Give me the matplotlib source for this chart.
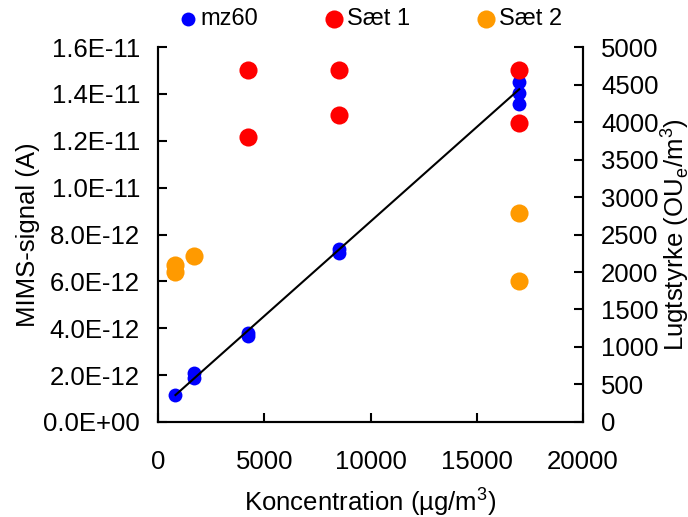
import matplotlib.pyplot as plt
from matplotlib.ticker import FormatStrFormatter, MultipleLocator

plt.rcParams['font.family'] = ['Liberation Sans', 'DejaVu Sans']
plt.rcParams['mathtext.fontset'] = 'custom'
plt.rcParams['mathtext.rm'] = 'Liberation Sans'

# MIMS signal for m/z 60 (left axis)
mz60_x = [820, 1700, 1700, 4250, 4250, 8500, 8500, 17000, 17000, 17000]
mz60_y = [1.15e-12, 2.08e-12, 1.87e-12, 3.79e-12, 3.65e-12,
          7.40e-12, 7.23e-12, 1.452e-11, 1.406e-11, 1.359e-11]

# straight line through the m/z 60 points
line_x = [820, 17000]
line_y = [1.15e-12, 1.42e-11]

# odour concentration (right axis)
saet1_x = [4250, 4250, 8500, 8500, 17000, 17000]
saet1_y = [4700, 3800, 4700, 4090, 4700, 3990]
saet2_x = [820, 820, 1700, 17000, 17000]
saet2_y = [2100, 2005, 2210, 2790, 1880]

fs = 18.5
fig = plt.figure(figsize=(6.88, 5.17), dpi=100)
ax = fig.add_axes([0.2297, 0.1838, 0.6177, 0.7252])
ax2 = ax.twinx()

ax.scatter(mz60_x, mz60_y, s=100, color='#0000FF', label='mz60', zorder=2,
           linewidths=0)
ax.plot(line_x, line_y, color='black', lw=1.5, zorder=3)

ax2.scatter(saet1_x, saet1_y, s=170, color='#FF0000', label='Sæt 1',
            linewidths=0)
ax2.scatter(saet2_x, saet2_y, s=170, color='#FF9A00', label='Sæt 2',
            linewidths=0)

ax.set_xlim(0, 20000)
ax.set_ylim(0, 1.6e-11)
ax2.set_ylim(0, 5000)
ax.xaxis.set_major_locator(MultipleLocator(5000))
ax.yaxis.set_major_locator(MultipleLocator(2e-12))
ax.yaxis.set_major_formatter(FormatStrFormatter('%.1E'))
ax2.yaxis.set_major_locator(MultipleLocator(500))

for a in (ax, ax2):
    a.spines['top'].set_visible(False)
    for sp in a.spines.values():
        sp.set_linewidth(1.5)
    a.tick_params(direction='in', length=6.5, width=1.5, labelsize=fs, pad=13)
ax.tick_params(axis='x', pad=20)

ax.set_xlabel('Koncentration (µg/m$^\\mathregular{3}$)', fontsize=fs, labelpad=8)
ax.set_ylabel('MIMS-signal (A)', fontsize=fs, labelpad=2)
ax2.set_ylabel('Lugtstyrke (OU$_\\mathregular{e}$/m$^\\mathregular{3}$)',
               fontsize=fs, labelpad=0)

h1, l1 = ax.get_legend_handles_labels()
h2, l2 = ax2.get_legend_handles_labels()
fig.legend(h1 + h2, l1 + l2, loc='upper center', bbox_to_anchor=(0.538, 1.007),
           ncol=3, frameon=False, fontsize=17, handletextpad=0.15,
           handlelength=0.8, columnspacing=2.8, scatterpoints=1, borderpad=0)

fig.savefig('out.png', dpi=100)
